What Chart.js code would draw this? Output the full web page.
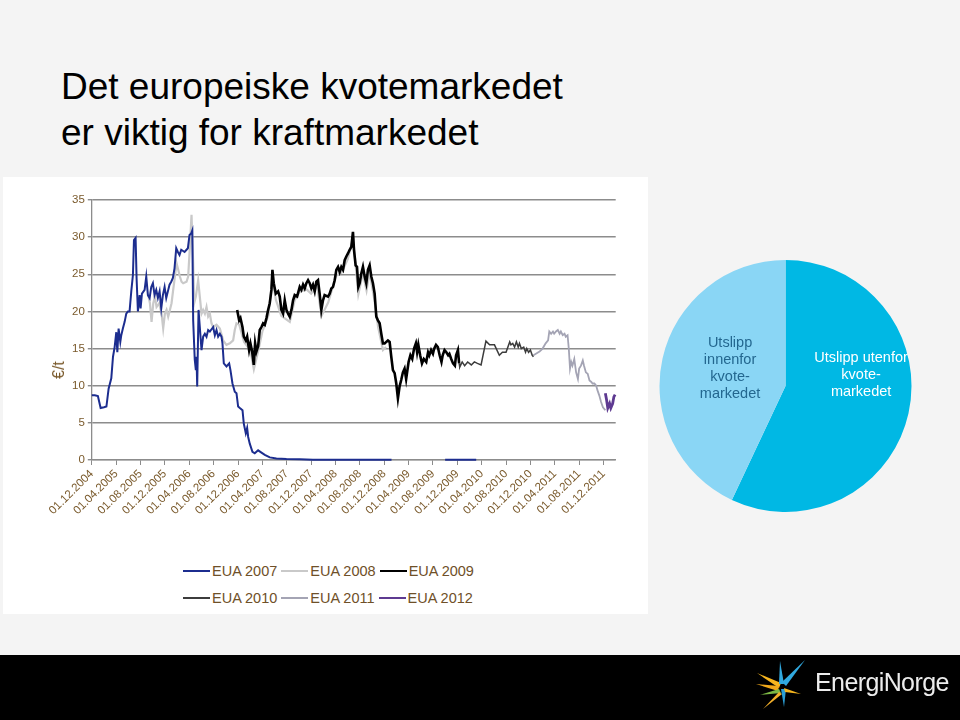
<!DOCTYPE html>
<html>
<head>
<meta charset="utf-8">
<script src="https://cdn.jsdelivr.net/npm/chart.js@4.4.1/dist/chart.umd.min.js"></script>
<style>
  html, body { margin: 0; padding: 0; }
  body {
    width: 960px; height: 720px; position: relative; overflow: hidden;
    background: #f4f4f4; font-family: "Liberation Sans", Arial, sans-serif;
  }
  #title {
    position: absolute; left: 61px; top: 64px;
    font-size: 37px; line-height: 46px; color: #000;
  }
  #panel { position: absolute; left: 3px; top: 177px; width: 645px; height: 437px; background: #fff; }
  #lineBox { position: absolute; left: 3px; top: 177px; width: 645px; height: 360px; }
  #yTitle {
    position: absolute; left: 59px; top: 370px; color: #7a5a2c; font-size: 16px;
    transform: translate(-50%, -50%) rotate(-90deg); white-space: nowrap;
  }
  #legend { position: absolute; left: 183px; top: 557px; width: 300px; }
  .row { display: flex; height: 27px; align-items: center; }
  .item { display: flex; align-items: center; margin-right: 4px; }
  .swatch { width: 27px; height: 0; border-top: 2px solid #000; margin-right: 2px; }
  .lbl { font-size: 14.5px; color: #6f5028; }
  #pieBox { position: absolute; left: 650px; top: 250px; width: 290px; height: 272px; }
  #footer { position: absolute; left: 0; top: 655px; width: 960px; height: 65px; background: #000; }
  #brand {
    position: absolute; left: 815px; top: 668px; font-size: 25px; letter-spacing: -0.6px;
    color: #ececec;
  }
  #logo { position: absolute; left: 0; top: 0; }
</style>
</head>
<body>
<div id="title">Det europeiske kvotemarkedet<br>er viktig for kraftmarkedet</div>
<div id="panel"></div>
<div id="lineBox"><canvas id="priceChart"></canvas></div>
<div id="yTitle">€/t</div>
<div id="legend"></div>
<div id="pieBox"><canvas id="pieChart"></canvas></div>
<div id="footer"></div>
<svg id="logo" width="960" height="720">
  <polygon points="757,673 781,683 779,688" fill="#f6b51e"/>
  <polygon points="756,684 779,686 778,691" fill="#f0a81a"/>
  <polygon points="780,661 784,684 779,684" fill="#31a9df"/>
  <polygon points="805,660 786,686 782,682" fill="#31a9df"/>
  <polygon points="784,707 781,689 786,689" fill="#2b9fd6"/>
  <polygon points="801,694 784,688 785,692" fill="#f6b51e"/>
  <polygon points="760,695 779,689 781,693" fill="#7cb844"/>
  <polygon points="763,709 779,692 782,694" fill="#f4b02a"/>
</svg>
<div id="brand">EnergiNorge</div>

<script>
// Tick labels on the x axis, one every 4 months from Dec 2004
const tickLabels = ["01.12.2004", "01.04.2005", "01.08.2005", "01.12.2005", "01.04.2006", "01.08.2006",
  "01.12.2006", "01.04.2007", "01.08.2007", "01.12.2007", "01.04.2008", "01.08.2008", "01.12.2008",
  "01.04.2009", "01.08.2009", "01.12.2009", "01.04.2010", "01.08.2010", "01.12.2010", "01.04.2011",
  "01.08.2011", "01.12.2011"];

// Series: [months since 01.12.2004, €/t]
const eua2007 = [[0, 8.7], [0.5, 8.7], [1.0, 8.6], [1.45, 7.0], [2.0, 7.1], [2.4, 7.2], [2.76, 9.6], [3.2, 11.0],
  [3.48, 13.9], [3.75, 15.2], [4.02, 17.2], [4.19, 14.5], [4.4, 17.7], [4.68, 15.9], [4.84, 16.8], [5.1, 17.7],
  [5.39, 18.6], [5.66, 19.7], [5.93, 20.0], [6.2, 20.0], [6.48, 22.7], [6.75, 24.9], [6.92, 29.6], [7.19, 29.9],
  [7.35, 24.5], [7.57, 20.0], [7.85, 22.2], [8.01, 20.4], [8.23, 22.4], [8.67, 22.9], [8.94, 24.7], [9.21, 22.2],
  [9.49, 21.8], [9.76, 23.3], [10.03, 23.8], [10.3, 22.2], [10.58, 22.9], [10.85, 21.8], [11.13, 22.7], [11.4, 20.4],
  [11.67, 22.2], [11.95, 23.3], [12.22, 21.8], [12.49, 22.7], [12.76, 23.6], [13.04, 24.0], [13.31, 24.5],
  [13.58, 25.8], [13.86, 28.5], [14.13, 28.0], [14.4, 27.6], [14.68, 28.3], [15.23, 28.0], [15.77, 28.5],
  [16.04, 30.3], [16.32, 30.5], [16.5, 30.9], [16.64, 18.8], [16.9, 13.5], [17.08, 12.1], [17.19, 13.9],
  [17.3, 9.9], [17.52, 20.2], [17.73, 17.9], [18.01, 14.8], [18.28, 16.6], [18.56, 17.0], [18.83, 16.6],
  [19.1, 17.5], [19.38, 17.3], [19.92, 17.9], [20.2, 16.8], [20.47, 17.5], [20.74, 16.6], [21.02, 17.0],
  [21.29, 16.6], [21.45, 15.7], [21.67, 13.0], [22.11, 12.6], [22.55, 13.0], [22.76, 12.1], [23.09, 10.3],
  [23.47, 9.2], [23.75, 9.0], [24.02, 7.2], [24.3, 7.0], [24.74, 6.7], [24.95, 4.9], [25.28, 3.6], [25.5, 4.3],
  [25.67, 3.1], [25.93, 2.2], [26.37, 1.1], [26.75, 0.9], [27.3, 1.3], [27.85, 1.0], [28.4, 0.7], [29.22, 0.35],
  [30.3, 0.2], [31.95, 0.13], [34.13, 0.1], [36.3, 0.05], [40, 0.03], [45, 0.02], [49.2, 0.02], [53, null],
  [58, 0.02], [63.1, 0.02]];

const eua2008 = [[9.27, 22.2], [9.54, 21.1], [9.81, 18.6], [10.09, 21.1], [10.36, 22.0], [10.63, 20.6],
  [11.07, 21.1], [11.45, 19.7], [11.72, 17.7], [12.0, 19.7], [12.27, 20.2], [12.54, 19.3], [12.82, 20.2],
  [13.09, 21.1], [13.36, 22.9], [13.64, 24.7], [13.91, 26.5], [14.19, 25.6], [14.46, 24.7], [14.73, 24.0],
  [15.0, 23.8], [15.55, 24.0], [15.82, 24.7], [16.1, 28.7], [16.37, 33.0], [16.64, 26.5], [16.8, 21.1],
  [17.08, 22.0], [17.46, 24.2], [17.73, 22.0], [18.01, 19.7], [18.28, 20.2], [18.56, 19.7], [18.83, 20.6],
  [19.1, 19.3], [19.38, 19.7], [19.65, 18.4], [19.92, 17.9], [20.47, 18.2], [21.02, 17.7], [21.56, 16.1],
  [22.11, 15.5], [22.66, 15.7], [23.2, 16.1], [23.47, 17.5], [23.75, 18.4], [24.2, 18.2], [25, 15.9], [26, 14.8],
  [26.6, 12.2], [27.3, 14.6], [28, 17.3], [29, 19.5], [29.65, 24.6], [30.2, 21.6], [31.1, 19.4], [32.5, 18.6],
  [33.3, 21.5], [34.1, 22.6], [35.2, 23.0], [36, 22.4], [37, 23.4], [37.7, 19.4], [38.8, 21.2], [40.1, 24.8],
  [41, 25.2], [42, 27.0], [42.9, 29.8], [43.75, 22.3], [44.5, 25.1], [45.1, 22.8], [45.6, 25.3], [46.4, 21.5],
  [47, 17.9], [47.8, 14.8], [48.3, 15.2]];

const eua2009 = [[23.86, 20.2], [24.19, 18.8], [24.4, 19.1], [24.73, 17.9], [24.95, 16.6], [25.28, 16.1],
  [25.5, 16.6], [25.82, 14.8], [26.04, 15.7], [26.32, 14.6], [26.59, 12.8], [26.81, 15.7], [27.03, 14.6],
  [27.3, 15.3], [27.57, 17.5], [27.85, 17.9], [28.12, 18.4], [28.39, 18.2], [28.67, 19.1], [28.94, 20.2],
  [29.21, 21.1], [29.49, 22.9], [29.65, 25.6], [29.87, 23.8], [30.2, 22.4], [30.58, 22.7], [30.85, 22.0],
  [31.12, 20.2], [31.4, 19.7], [31.67, 21.5], [31.95, 20.2], [32.22, 19.7], [32.49, 19.3], [32.77, 20.2],
  [33.04, 21.5], [33.31, 22.2], [33.7, 22.0], [34.13, 23.3], [34.4, 22.9], [34.68, 23.6], [34.95, 23.1],
  [35.22, 23.8], [35.5, 24.2], [35.77, 23.8], [36.04, 23.1], [36.31, 23.6], [36.59, 22.7], [36.86, 24.0],
  [37.13, 24.2], [37.4, 22.4], [37.68, 20.2], [37.95, 21.5], [38.22, 22.2], [38.77, 22.0], [39.05, 22.4],
  [39.32, 23.1], [39.6, 23.3], [39.87, 24.2], [40.14, 25.6], [40.42, 26.0], [40.69, 25.3], [40.96, 26.0],
  [41.24, 25.6], [41.51, 26.9], [41.78, 27.4], [42.05, 27.8], [42.33, 28.3], [42.6, 28.7], [42.87, 30.7],
  [43.04, 28.3], [43.31, 26.2], [43.53, 26.0], [43.75, 23.3], [43.97, 23.8], [44.24, 25.1], [44.51, 26.0],
  [44.79, 24.7], [45.06, 23.8], [45.33, 25.6], [45.61, 26.2], [45.88, 24.7], [46.15, 23.8], [46.43, 22.4],
  [46.7, 19.3], [46.97, 18.8], [47.25, 18.4], [47.52, 17.0], [47.79, 15.7], [48.07, 15.7], [48.34, 15.9],
  [48.61, 16.1], [48.89, 15.9], [49.16, 13.9], [49.43, 12.1], [49.71, 11.7], [49.98, 10.3], [50.25, 8.3],
  [50.52, 9.9], [50.8, 10.8], [51.07, 11.8], [51.34, 12.3], [51.6, 10.9], [52.0, 13.2], [52.3, 14.1],
  [52.6, 13.6], [52.9, 15.0], [53.2, 15.7], [53.4, 14.5], [53.6, 15.5], [53.9, 14.1], [54.2, 13.0], [54.5, 13.6],
  [54.9, 13.2], [55.2, 14.5], [55.4, 14.1], [55.7, 14.8], [56.0, 14.3], [56.2, 15.0], [56.5, 15.5], [56.8, 15.2],
  [57.1, 14.1], [57.4, 13.2], [57.6, 14.1], [57.9, 14.8], [58.2, 14.5], [58.5, 14.1], [58.7, 14.3], [59.0, 13.6],
  [59.3, 13.0], [59.6, 12.7], [59.8, 14.1], [60.1, 14.8], [60.3, 13.0]];

const eua2010 = [[60.3, 13.0], [60.4, 12.5], [60.8, 13.2], [61.2, 12.7], [61.7, 13.2], [62.3, 12.8], [62.8, 13.2],
  [63.3, 13.0], [63.9, 12.8], [64.7, 16.0], [65.3, 15.5], [66.1, 15.5], [66.9, 14.1], [67.4, 14.5], [68.0, 14.5],
  [68.6, 15.9], [68.8, 15.5], [69.1, 15.7], [69.4, 15.2], [69.7, 15.9], [70.0, 15.2], [70.2, 15.7], [70.5, 15.0],
  [70.9, 15.2], [71.2, 14.5], [71.4, 15.0], [71.7, 14.5], [72.0, 14.8], [72.3, 14.1], [72.5, 13.9]];

const eua2011 = [[72.5, 14.1], [72.9, 14.3], [73.5, 14.6], [74.0, 15.0], [74.5, 15.7], [74.9, 16.1], [75.1, 17.3],
  [75.4, 17.0], [75.7, 17.3], [75.9, 17.0], [76.2, 17.3], [76.5, 17.5], [76.8, 17.0], [77.0, 17.3], [77.3, 16.8],
  [77.6, 17.0], [77.8, 16.6], [78.1, 16.8], [78.3, 15.0], [78.5, 12.3], [78.7, 13.2], [78.9, 12.7], [79.2, 13.6],
  [79.5, 11.8], [79.8, 10.9], [80.0, 12.3], [80.3, 12.7], [80.6, 13.4], [80.8, 12.7], [81.1, 11.8], [81.4, 11.6],
  [81.7, 10.7], [82.0, 10.5], [82.2, 10.3], [82.5, 10.3], [82.8, 10.0], [83.0, 9.4], [83.3, 8.7], [83.6, 7.8],
  [83.9, 7.1], [84.3, 6.7]];

const eua2012 = [[84.3, 9.0], [84.5, 8.1], [84.7, 7.0], [85.0, 7.6], [85.2, 7.0], [85.5, 7.6], [85.7, 8.5],
  [85.9, 8.8]];

const seriesNames = ["EUA 2007", "EUA 2008", "EUA 2009", "EUA 2010", "EUA 2011", "EUA 2012"];

// Pie: share of emissions
const pieNames = ["Utslipp utenfor kvotemarkedet", "Utslipp innenfor kvotemarkedet"];
const pieValues = [57, 43];
const pieLabelLines = [["Utslipp utenfor", "kvote-", "markedet"], ["Utslipp", "innenfor", "kvote-", "markedet"]];

const brown = "#7a5a2c";
const axisGray = "#8c8c8c";
const font = "'Liberation Sans', Arial, sans-serif";

const toPoints = (pairs) => pairs.map((p) => ({ x: p[0], y: p[1] }));

const seriesData = [eua2007, eua2008, eua2009, eua2010, eua2011, eua2012];
const seriesColors = ["#1c2d8f", "#c9c9c9", "#000000", "#3c3c3c", "#a4a4b4", "#5e3a91"];
const seriesWidths = [2, 2.2, 2.6, 1.5, 1.8, 2.8];
const seriesOrder = [1, 6, 2, 4, 5, 3];

const priceChart = new Chart(document.getElementById("priceChart"), {
  type: "line",
  data: {
    datasets: seriesData.map((pairs, i) => ({
      label: seriesNames[i],
      data: toPoints(pairs),
      borderColor: seriesColors[i],
      backgroundColor: seriesColors[i],
      borderWidth: seriesWidths[i],
      order: seriesOrder[i],
      pointRadius: 0,
      tension: 0,
      spanGaps: false,
      clip: 4,
    })),
  },
  options: {
    responsive: true,
    maintainAspectRatio: false,
    animation: false,
    layout: { padding: { left: 48.8, right: 32.3, top: 23, bottom: 17 } },
    plugins: {
      legend: { display: false },
      tooltip: { enabled: false },
    },
    scales: {
      x: {
        type: "linear",
        min: 0,
        max: 86,
        afterFit: (scale) => { scale.height = 60; },
        grid: { drawOnChartArea: false, tickLength: 5, color: axisGray, lineWidth: 1 },
        border: { color: axisGray, width: 1.3 },
        ticks: {
          stepSize: 4,
          includeBounds: false,
          autoSkip: false,
          minRotation: 45,
          maxRotation: 45,
          padding: 2,
          color: brown,
          font: { family: font, size: 11.5 },
          callback: (value) => tickLabels[value / 4] ?? "",
        },
      },
      y: {
        min: 0,
        max: 35,
        afterFit: (scale) => { scale.width = 40; },
        grid: { color: axisGray, lineWidth: 1.4, tickLength: 4 },
        border: { color: axisGray, width: 1.3 },
        ticks: {
          stepSize: 5,
          padding: 3,
          color: brown,
          font: { family: font, size: 11.5 },
        },
      },
    },
  },
});

// Legend in two rows of three, built from the chart datasets
const legendBox = document.getElementById("legend");
const legendItems = priceChart.data.datasets.map((ds) => {
  const item = document.createElement("div");
  item.className = "item";
  item.innerHTML = `<span class="swatch" style="border-top-color:${ds.borderColor}"></span><span class="lbl">${ds.label}</span>`;
  return item;
});
[legendItems.slice(0, 3), legendItems.slice(3)].forEach((rowItems) => {
  const row = document.createElement("div");
  row.className = "row";
  rowItems.forEach((it) => row.appendChild(it));
  legendBox.appendChild(row);
});

// Pie labels drawn inside the slices
const pieLabelStyle = [
  { dx: 0.6, dy: -0.087, color: "#ffffff" },
  { dx: -0.44, dy: -0.139, color: "#23678f" },
];

const pieLabelPlugin = {
  id: "pieLabels",
  afterDatasetsDraw(chart) {
    const ctx = chart.ctx;
    const arcs = chart.getDatasetMeta(0).data;
    ctx.save();
    ctx.font = `14.5px ${font}`;
    ctx.textAlign = "center";
    ctx.textBaseline = "middle";
    arcs.forEach((arc, i) => {
      const r = arc.outerRadius;
      const lines = pieLabelLines[i];
      const cx = arc.x + pieLabelStyle[i].dx * r;
      const cy = arc.y + pieLabelStyle[i].dy * r;
      const lh = 17.3;
      ctx.fillStyle = pieLabelStyle[i].color;
      lines.forEach((line, j) => {
        ctx.fillText(line, cx, cy + (j - (lines.length - 1) / 2) * lh);
      });
    });
    ctx.restore();
  },
};

const pieChart = new Chart(document.getElementById("pieChart"), {
  type: "pie",
  data: {
    labels: pieNames,
    datasets: [
      {
        data: pieValues,
        backgroundColor: ["#00b8e4", "#8ad6f5"],
        borderWidth: 0,
      },
    ],
  },
  options: {
    responsive: true,
    maintainAspectRatio: false,
    animation: false,
    layout: { padding: { left: 9.5, right: 28.5, top: 10, bottom: 10 } },
    plugins: {
      legend: { display: false },
      tooltip: { enabled: false },
    },
  },
  plugins: [pieLabelPlugin],
});
</script>
</body>
</html>
